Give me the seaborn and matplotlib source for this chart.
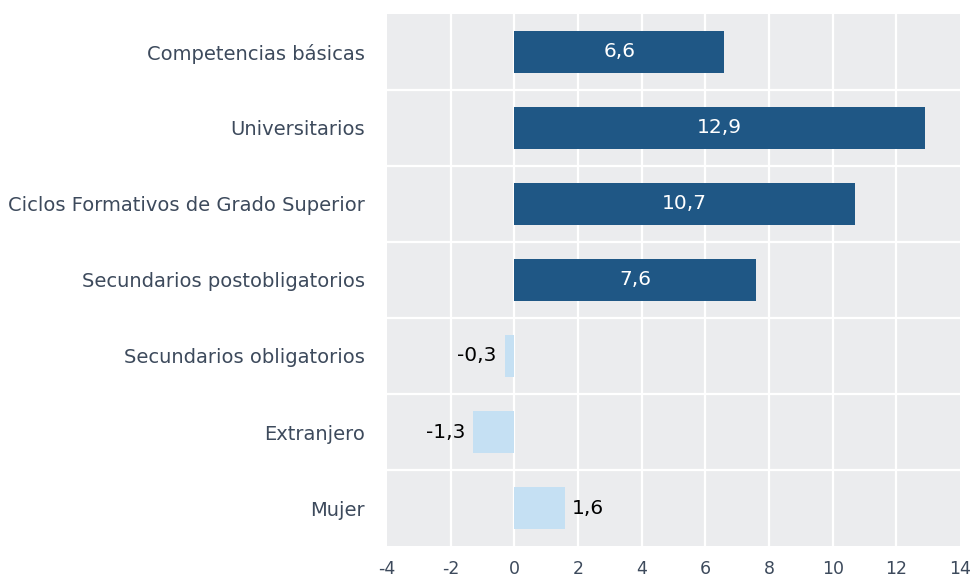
import matplotlib
matplotlib.use("Agg")
import matplotlib.pyplot as plt
import seaborn as sns
import pandas as pd
import numpy as np

categories = ["Competencias básicas", "Universitarios", "Ciclos Formativos de Grado Superior",
              "Secundarios postobligatorios", "Secundarios obligatorios", "Extranjero", "Mujer"]
values = [6.6, 12.9, 10.7, 7.6, -0.3, -1.3, 1.6]
groups = ["a", "a", "a", "a", "b", "b", "b"]
xticks = [-4, -2, 0, 2, 4, 6, 8, 10, 12, 14]

sns.set_theme(style="white")
plt.rcParams['font.family'] = ['DejaVu Sans']

df = pd.DataFrame({"cat": categories, "val": values, "grp": groups})
palette = {"a": "#1f5785", "b": "#c5e0f3"}

fig = plt.figure(figsize=(9.73, 5.8), dpi=100)
ax = fig.add_axes([0.3977, 0.0586, 0.5889, 0.9173])
sns.barplot(data=df, x="val", y="cat", hue="grp", palette=palette, orient="h",
            dodge=False, width=0.55, legend=False, ax=ax, saturation=1, linewidth=0)
ax.set_facecolor("#ebecee")
ax.set_xlim(-4, 14)
ax.set_ylim(6.5, -0.5)
ax.set_xticks(xticks)
ax.set_xticklabels([str(t) for t in xticks])
ax.set_yticks(range(len(categories)))
ax.set_yticklabels(categories)
ax.set_xlabel("")
ax.set_ylabel("")
for s in ax.spines.values():
    s.set_visible(False)
ax.grid(False)
for t in xticks[1:-1]:
    ax.axvline(t, color="white", lw=1.6, zorder=0.5)
for yv in np.arange(0.5, len(categories) - 1, 1):
    ax.axhline(yv, color="white", lw=1.6, zorder=0.5)
ax.tick_params(axis="x", length=0, pad=10, labelsize=12.5, labelcolor="#3d4a5c")
ax.tick_params(axis="y", which="both", length=0, pad=16, labelsize=14, labelcolor="#3d4a5c")

for i, v in enumerate(values):
    lab = f"{v:.1f}".replace(".", ",")
    if groups[i] == "a":
        ax.text(v / 2, i, lab, ha="center", va="center", color="white", fontsize=14.5)
    else:
        if v >= 0:
            ax.text(v + 0.22, i, lab, ha="left", va="center", color="black", fontsize=14.5)
        else:
            ax.text(v - 0.25, i, lab, ha="right", va="center", color="black", fontsize=14.5)

fig.savefig("out.png", dpi=100)
